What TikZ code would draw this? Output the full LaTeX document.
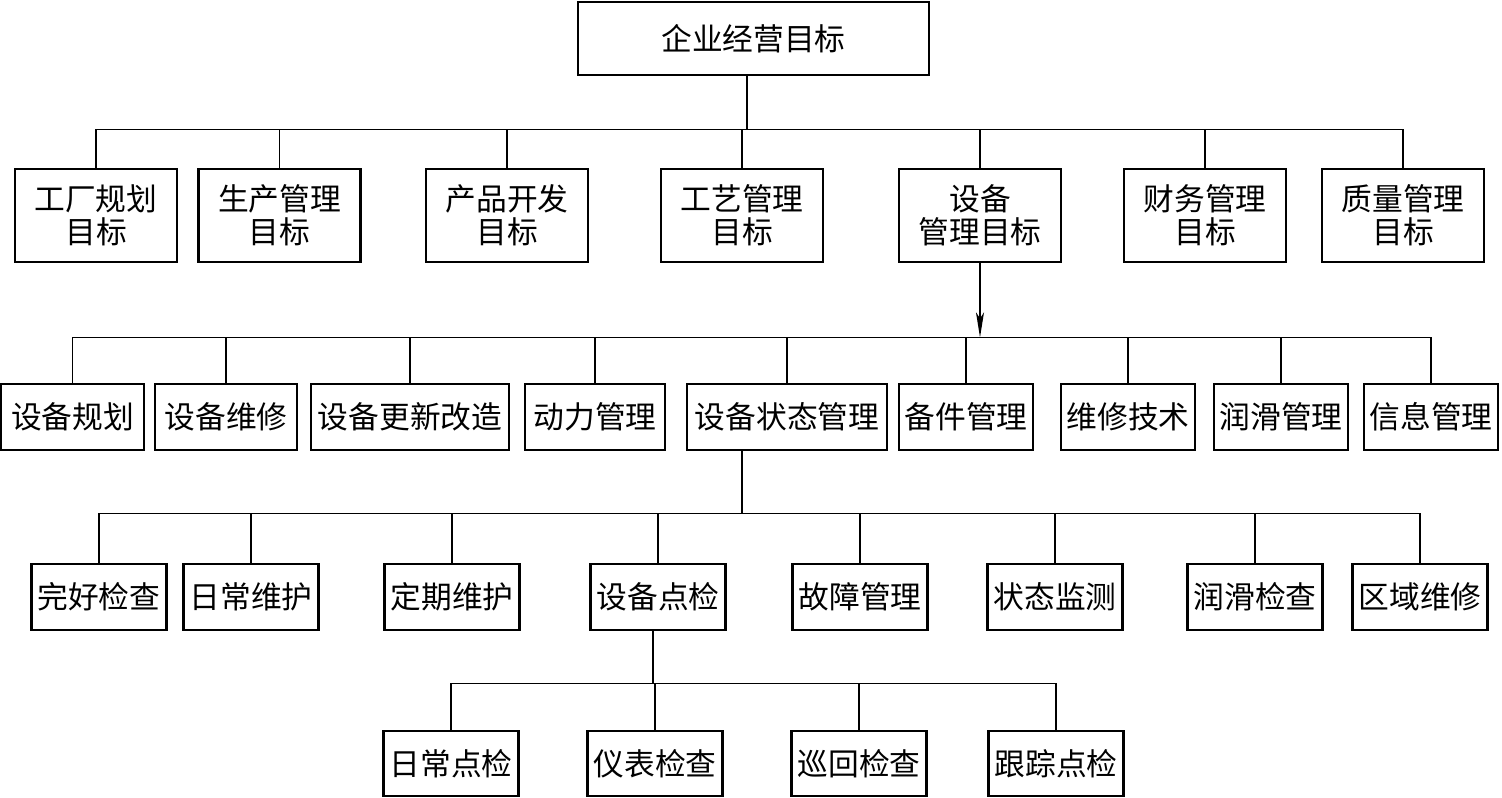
\documentclass[tikz,border=0pt]{standalone}
\usepackage{fontspec}
\setmainfont{Noto Sans CJK SC}
\usetikzlibrary{positioning,arrows.meta}

\begin{document}
\begin{tikzpicture}[x=0.02cm, y=-0.02cm, every node/.style={font=\fontsize{17.5}{19}\selectfont},
  box/.style={draw, line width=1.6pt, inner sep=0pt, align=center, minimum width=2.7cm, minimum height=1.32cm},
  link/.style={line width=0.8pt},
  arr/.style={line width=0.8pt, -{Stealth[length=5mm, width=1.6mm, inset=1.2mm]}}]
\useasboundingbox (0,0) rectangle (1502,798);
% top
\node[box, minimum width=7.02cm, minimum height=1.46cm] (goal) at (753.5,38.5) {企业经营目标};
% level 1: department goals
\foreach \n/\x/\t in {plant/96/工厂规划\\目标, prod/279.5/生产管理\\目标, develop/507/产品开发\\目标,
    process/742/工艺管理\\目标, equip/980/设备\\管理目标, finance/1205/财务管理\\目标, quality/1403/质量管理\\目标}
  \node[box, minimum width=3.24cm, minimum height=1.86cm] (\n) at (\x,215.5) {\t};
% level 2: equipment management
\foreach \n/\x/\w/\t in {plan/72.5/143/设备规划, repair/226/142/设备维修, renew/410/198/设备更新改造,
    power/595/140/动力管理, state/787/200/设备状态管理, spare/966/134/备件管理,
    tech/1128/134/维修技术, lube/1281/134/润滑管理, info/1431/134/信息管理}
  \node[box, minimum width=\w*0.02cm] (\n) at (\x,417) {\t};
% level 3: state management
\foreach \n/\x/\t in {intact/99/完好检查, daily/251/日常维护, periodic/452/定期维护, spot/658/设备点检,
    fault/860/故障管理, monitor/1055/状态监测, lubecheck/1255/润滑检查, zone/1420/区域维修}
  \node[box] (\n) at (\x,597) {\t};
% level 4: spot check
\foreach \n/\x/\t in {dailyspot/451/日常点检, meter/655/仪表检查, patrol/859/巡回检查, track/1056/跟踪点检}
  \node[box, minimum height=1.3cm] (\n) at (\x,763.5) {\t};

% connectors
\path ([xshift=-0.13cm]goal.south) ++(0,53) coordinate (j1);
\draw[link] ([xshift=-0.13cm]goal.south) -- (j1);
\foreach \c in {plant, prod, develop, process, equip, finance, quality} \draw[link] (j1) -| (\c.north);

\path (equip.south) ++(0,74) coordinate (j2);
\foreach \c in {plan, repair, renew, power, state, spare, tech, lube, info} \draw[link] (j2) -| (\c.north);
\draw[arr] (equip.south) -- (j2);

\path ([xshift=-0.9cm]state.south) ++(0,62) coordinate (j3);
\draw[link] ([xshift=-0.9cm]state.south) -- (j3);
\foreach \c in {intact, daily, periodic, spot, fault, monitor, lubecheck, zone} \draw[link] (j3) -| (\c.north);

\path ([xshift=-0.1cm]spot.south) ++(0,52) coordinate (j4);
\draw[link] ([xshift=-0.1cm]spot.south) -- (j4);
\foreach \c in {dailyspot, meter, patrol, track} \draw[link] (j4) -| (\c.north);
\end{tikzpicture}
\end{document}
